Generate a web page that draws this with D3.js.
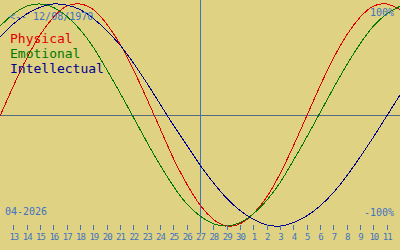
<!DOCTYPE html>
<html lang="en">
  <head>
    <meta charset="UTF-8" />
    <title>Biorhythm</title>
    <script src="https://d3js.org/d3.v7.min.js"></script>
    <style>
      html,
      body {
        margin: 0;
        padding: 0;
        background-color: #e0d283;
      }
      svg text {
        font-family: "DejaVu Sans Mono", monospace;
      }
    </style>
  </head>
  <body>
    <svg id="chart"></svg>
    <script>
      // day labels, 12-Apr .. 12-May (first and last only reach the edges)
      const days = [
        "12", "13", "14", "15", "16", "17", "18", "19", "20", "21", "22",
        "23", "24", "25", "26", "27", "28", "29", "30", "1", "2", "3", "4",
        "5", "6", "7", "8", "9", "10", "11", "12",
      ];
      const todayIndex = 15; // 27

      // values, -1 .. 1
      const physical = [
        -0.01, 0.26, 0.51, 0.72, 0.88, 0.98, 1.0, 0.95, 0.82, 0.64, 0.41,
        0.15, -0.12, -0.39, -0.62, -0.81, -0.94, -1.0, -0.98, -0.89, -0.74,
        -0.53, -0.28, -0.01, 0.26, 0.51, 0.72, 0.88, 0.98, 1.0, 0.95,
      ];
      const emotional = [
        0.8, 0.91, 0.98, 1.0, 0.97, 0.89, 0.77, 0.61, 0.41, 0.2, -0.02,
        -0.24, -0.45, -0.64, -0.8, -0.91, -0.98, -1.0, -0.97, -0.89, -0.77,
        -0.61, -0.41, -0.2, 0.02, 0.24, 0.45, 0.64, 0.8, 0.91, 0.98,
      ];
      const intellectual = [
        0.7, 0.82, 0.91, 0.97, 1.0, 0.99, 0.95, 0.87, 0.76, 0.63, 0.47,
        0.29, 0.1, -0.09, -0.27, -0.45, -0.61, -0.75, -0.86, -0.94, -0.99,
        -1.0, -0.97, -0.91, -0.82, -0.7, -0.55, -0.38, -0.2, -0.01, 0.18,
      ];

      const series = [
        { name: "Physical", values: physical, color: "#e00000" },
        { name: "Emotional", values: emotional, color: "#007800" },
        { name: "Intellectual", values: intellectual, color: "#00008c" },
      ];

      const width = 400;
      const height = 250;
      const textBlue = "#3f72c0";

      const svg = d3
        .select("#chart")
        .attr("width", width)
        .attr("height", height)
        .style("display", "block");

      const x = d3
        .scaleLinear()
        .domain([0, days.length - 1])
        .range([0, width]);
      const y = d3.scaleLinear().domain([-1, 1]).range([226, 4]);

      // zero line
      svg
        .append("line")
        .attr("x1", 0)
        .attr("x2", width)
        .attr("y1", Math.round(y(0)) + 0.5)
        .attr("y2", Math.round(y(0)) + 0.5)
        .attr("stroke", "#566a82")
        .attr("shape-rendering", "crispEdges");

      // today line
      svg
        .append("line")
        .attr("x1", Math.round(x(todayIndex)) + 0.5)
        .attr("x2", Math.round(x(todayIndex)) + 0.5)
        .attr("y1", 0)
        .attr("y2", 233)
        .attr("stroke", textBlue)
        .attr("shape-rendering", "crispEdges");

      // curves
      const line = d3
        .line()
        .x((d, i) => x(i))
        .y((d) => y(d))
        .curve(d3.curveNatural);

      svg
        .selectAll(".curve")
        .data(series)
        .enter()
        .append("path")
        .attr("class", "curve")
        .attr("fill", "none")
        .attr("stroke", (d) => d.color)
        .attr("stroke-width", 1)
        .attr("shape-rendering", "crispEdges")
        .attr("d", (d) => line(d.values));

      // day axis
      const axis = d3
        .axisBottom(x)
        .tickValues(d3.range(1, days.length - 1))
        .tickFormat((i) => days[i])
        .tickSize(5)
        .tickPadding(4);

      const gx = svg
        .append("g")
        .attr("transform", "translate(0,225)")
        .call(axis);
      gx.select(".domain").remove();
      gx.selectAll(".tick line")
        .attr("stroke", textBlue)
        .attr("shape-rendering", "crispEdges");
      gx.selectAll(".tick text")
        .attr("fill", textBlue)
        .style("font-size", "9px")
        .style("letter-spacing", "-1px")
        .style("font-family", "DejaVu Sans Mono, monospace");

      // labels
      svg
        .append("text")
        .attr("x", 9)
        .attr("y", 20)
        .attr("fill", textBlue)
        .style("font-size", "10px")
        .text("<-- 12/08/1970");

      svg
        .append("text")
        .attr("x", 5)
        .attr("y", 215)
        .attr("fill", textBlue)
        .style("font-size", "10px")
        .text("04-2026");

      svg
        .append("text")
        .attr("x", 394)
        .attr("y", 16)
        .attr("text-anchor", "end")
        .attr("fill", textBlue)
        .style("font-size", "10px")
        .text("100%");

      svg
        .append("text")
        .attr("x", 394)
        .attr("y", 216)
        .attr("text-anchor", "end")
        .attr("fill", textBlue)
        .style("font-size", "10px")
        .text("-100%");

      // legend
      svg
        .selectAll(".legend")
        .data(series)
        .enter()
        .append("text")
        .attr("class", "legend")
        .attr("x", 10)
        .attr("y", (d, i) => 43 + i * 15)
        .attr("fill", (d) => d.color)
        .style("font-size", "13px")
        .text((d) => d.name);
    </script>
  </body>
</html>
